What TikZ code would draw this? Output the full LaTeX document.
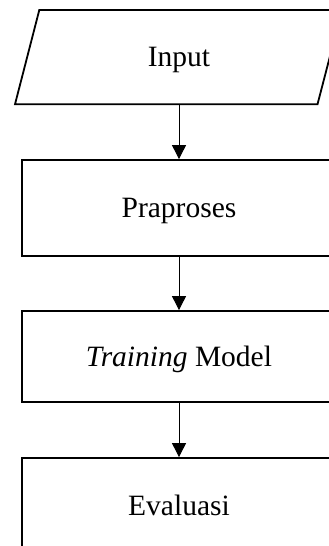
\documentclass[tikz,border=0pt]{standalone}
\usepackage{fontspec}
\setmainfont{Liberation Serif}
\usetikzlibrary{arrows.meta}
\begin{document}
\begin{tikzpicture}[x=1pt,y=-1pt,
  lbl/.style={font=\fontsize{29.5}{32}\selectfont, text=black, text depth=0pt},
  stepbox/.style={lbl, draw=black, line width=1.8pt, rectangle, minimum width=313.4pt, inner sep=0pt},
  flow/.style={draw=black, line width=0.9pt, -{Triangle[length=14pt,width=14pt]}}]
\useasboundingbox (0,0) rectangle (329,546);
\clip (0,0) rectangle (329,546);
\fill[white] (0,0) rectangle (329,546);
% input parallelogram
\node[lbl, minimum width=300pt, minimum height=94.3pt, inner sep=0pt] (in) at (179,57.2) {Input};
\draw[line width=1.8pt, line join=miter] (39.3,10) -- (342,10) -- (317.5,104.3) -- (15,104.3) -- cycle;
\node[stepbox, minimum height=96pt] (pre) at (179,208) {Praproses};
\node[stepbox, minimum height=91pt] (train) at (179,356.5) {\textit{Training} Model};
\node[stepbox, minimum height=94pt] (eval) at (179,505) {Evaluasi};
\draw[flow] (in.south) -- (pre.north);
\draw[flow] (pre.south) -- (train.north);
\draw[flow] (train.south) -- (eval.north);
\end{tikzpicture}
\end{document}
